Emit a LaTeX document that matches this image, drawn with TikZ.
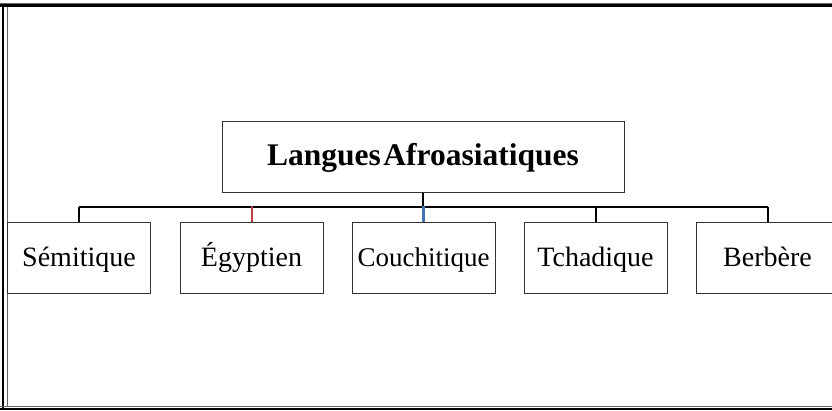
\documentclass[tikz,border=0pt]{standalone}
\usepackage{fontspec}
\setmainfont{Liberation Serif}
\definecolor{stubred}{HTML}{B8403D}
\definecolor{stubblue}{HTML}{4472B0}
\definecolor{boxline}{HTML}{333333}
\begin{document}
\begin{tikzpicture}[x=1pt,y=-1pt,
  childbox/.style={draw=boxline,line width=1pt,minimum width=143pt,minimum height=71pt,inner sep=0pt,text height=24pt,text depth=7pt,font=\fontsize{28}{30}\selectfont},
  topbox/.style={draw=boxline,line width=1pt,minimum width=402pt,minimum height=71pt,inner sep=0pt,text height=24pt,text depth=7pt,font=\fontsize{31.5}{33}\selectfont\bfseries},
  link/.style={line width=2pt,black},
  frameline/.style={line width=2.5pt,black},
  innerline/.style={line width=1pt,gray!80!black}]
\useasboundingbox (0,0) rectangle (832,410);
\clip (0,0) rectangle (832,410);
% frame
\draw[innerline] (0,3.5) -- (832,3.5);
\draw[frameline] (0,5.5) -- (832,5.5);
\draw[frameline] (3,4) -- (3,410);
\draw[innerline] (7.5,7) -- (7.5,406);
\draw[innerline] (0,406.5) -- (832,406.5);
\draw[frameline] (0,409) -- (832,409);
% nodes
\node[topbox] (top) at (423,156.5) {Langues\hspace{0.08em}Afroasiatiques};
\node[childbox] (semi) at (79,257.5) {Sémitique};
\node[childbox] (egyp) at (251.5,257.5) {Égyptien};
\node[childbox,font=\fontsize{27}{29}\selectfont] (couc) at (423.5,257.5) {Couchitique};
\node[childbox] (tcha) at (595.5,257.5) {Tchadique};
\node[childbox] (berb) at (767.5,257.5) {Berbère};
\coordinate (bus) at (423.5,207);
% connectors
\draw[link] (top.south) -- (top.south |- bus);
\draw[link] (semi.north |- bus) -- (berb.north |- bus);
\draw[link] (semi.north) -- (semi.north |- bus);
\draw[line width=2pt,stubred] (egyp.north) -- ([yshift=1pt]egyp.north |- bus);
\draw[line width=3pt,stubblue] (couc.north) -- ([yshift=1pt]couc.north |- bus);
\draw[link] (tcha.north) -- (tcha.north |- bus);
\draw[link] (berb.north) -- (berb.north |- bus);
\end{tikzpicture}
\end{document}
